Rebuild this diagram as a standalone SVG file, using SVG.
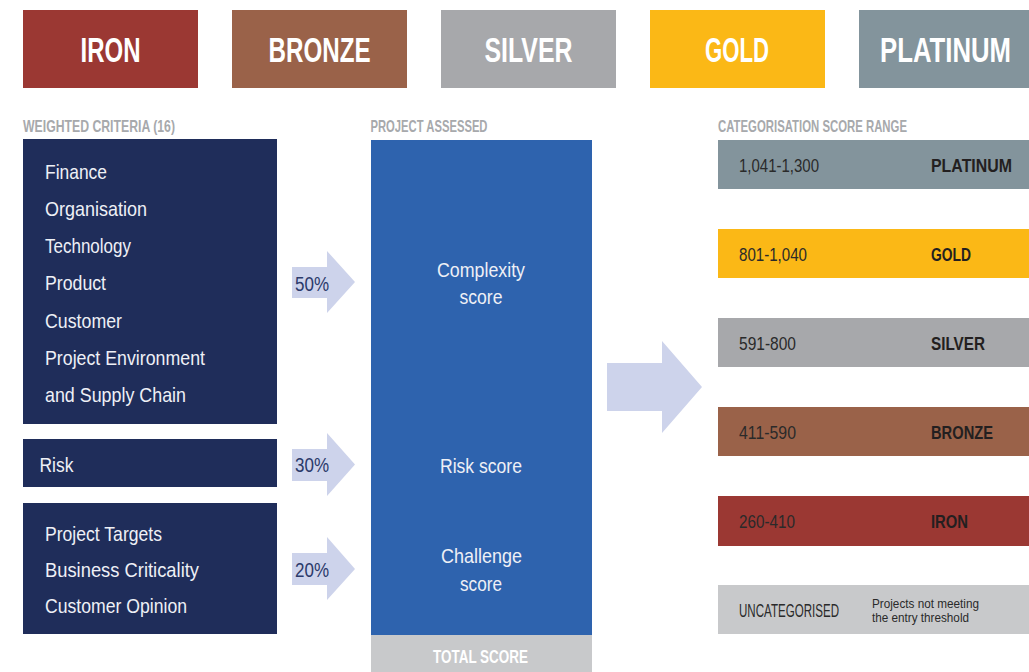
<svg xmlns="http://www.w3.org/2000/svg" width="1029" height="672" viewBox="0 0 1029 672">
  <style>
    text { font-family: "Liberation Sans Narrow", "Liberation Sans", Arial, sans-serif; }
    .tier { font-weight: bold; font-size: 35px; fill: #ffffff; text-anchor: middle; }
    .head { font-weight: bold; font-size: 16.5px; fill: #a7a9ac; }
    .crit { font-size: 21px; fill: #eef0f6; }
    .score { font-size: 21px; fill: #eef0f6; text-anchor: middle; }
    .pct { font-size: 20px; fill: #2b3a6a; }
    .range { font-size: 19px; fill: #2a2a2a; }
    .cat { font-size: 19px; font-weight: bold; fill: #231f20; }
    .note { font-size: 13.5px; fill: #2a2a2a; }
    .arrow { fill: #cdd3eb; }
  </style>

  <!-- tier banner along the top -->
  <g id="tier-iron">
    <rect x="23" y="10" width="175" height="78" fill="#9b3833"/>
    <text class="tier" x="110.5" y="61.5" textLength="60" lengthAdjust="spacingAndGlyphs">IRON</text>
  </g>
  <g id="tier-bronze">
    <rect x="232" y="10" width="175" height="78" fill="#9a6249"/>
    <text class="tier" x="319.5" y="61.5" textLength="102" lengthAdjust="spacingAndGlyphs">BRONZE</text>
  </g>
  <g id="tier-silver">
    <rect x="441" y="10" width="175" height="78" fill="#a7a8ab"/>
    <text class="tier" x="528.5" y="61.5" textLength="88" lengthAdjust="spacingAndGlyphs">SILVER</text>
  </g>
  <g id="tier-gold">
    <rect x="650" y="10" width="175" height="78" fill="#fbb816"/>
    <text class="tier" x="737" y="61.5" textLength="64" lengthAdjust="spacingAndGlyphs">GOLD</text>
  </g>
  <g id="tier-platinum">
    <rect x="859" y="10" width="170" height="78" fill="#83949c"/>
    <!-- condensed horizontally so the wide word fits the clipped box -->
    <text class="tier" transform="translate(945.5 61.5) scale(0.735 1)" x="0" y="0">PLATINUM</text>
  </g>

  <!-- column headings -->
  <g id="headings">
    <text class="head" x="23" y="131.5" textLength="152" lengthAdjust="spacingAndGlyphs">WEIGHTED CRITERIA (16)</text>
    <text class="head" x="370.5" y="131.5" textLength="117" lengthAdjust="spacingAndGlyphs">PROJECT ASSESSED</text>
    <text class="head" x="718" y="131.5" textLength="189" lengthAdjust="spacingAndGlyphs">CATEGORISATION SCORE RANGE</text>
  </g>

  <!-- weighted criteria -->
  <g id="criteria-complexity">
    <rect x="23" y="139" width="254" height="285" fill="#1f2d5a"/>
    <text class="crit" x="45" y="179" textLength="62" lengthAdjust="spacingAndGlyphs">Finance</text>
    <text class="crit" x="45" y="216" textLength="102" lengthAdjust="spacingAndGlyphs">Organisation</text>
    <text class="crit" x="45" y="253" textLength="86" lengthAdjust="spacingAndGlyphs">Technology</text>
    <text class="crit" x="45" y="290" textLength="61" lengthAdjust="spacingAndGlyphs">Product</text>
    <text class="crit" x="45" y="327.5" textLength="77" lengthAdjust="spacingAndGlyphs">Customer</text>
    <text class="crit" x="45" y="365" textLength="160" lengthAdjust="spacingAndGlyphs">Project Environment</text>
    <text class="crit" x="45" y="402" textLength="141" lengthAdjust="spacingAndGlyphs">and Supply Chain</text>
  </g>
  <g id="criteria-risk">
    <rect x="23" y="439" width="254" height="48" fill="#1f2d5a"/>
    <text class="crit" x="39.5" y="471.5" textLength="34" lengthAdjust="spacingAndGlyphs">Risk</text>
  </g>
  <g id="criteria-challenge">
    <rect x="23" y="503" width="254" height="131" fill="#1f2d5a"/>
    <text class="crit" x="45" y="540.5" textLength="117" lengthAdjust="spacingAndGlyphs">Project Targets</text>
    <text class="crit" x="45" y="577" textLength="154" lengthAdjust="spacingAndGlyphs">Business Criticality</text>
    <text class="crit" x="45" y="613" textLength="142" lengthAdjust="spacingAndGlyphs">Customer Opinion</text>
  </g>

  <!-- project assessed column -->
  <g id="project-assessed">
    <rect x="371" y="140" width="221" height="495" fill="#2e63ae"/>
    <text class="score" x="481" y="277" textLength="88" lengthAdjust="spacingAndGlyphs">Complexity</text>
    <text class="score" x="481" y="304" textLength="43" lengthAdjust="spacingAndGlyphs">score</text>
    <text class="score" x="481" y="472.5" textLength="82" lengthAdjust="spacingAndGlyphs">Risk score</text>
    <text class="score" x="481.5" y="562.5" textLength="81" lengthAdjust="spacingAndGlyphs">Challenge</text>
    <text class="score" x="481" y="590.5" textLength="42" lengthAdjust="spacingAndGlyphs">score</text>
  </g>
  <g id="total-score">
    <rect x="371" y="635" width="221" height="37" fill="#c8c9cb"/>
    <text x="480.5" y="663" text-anchor="middle" font-weight="bold" font-size="18" fill="#ffffff" textLength="95" lengthAdjust="spacingAndGlyphs">TOTAL SCORE</text>
  </g>

  <!-- weighting arrows -->
  <g id="connectors">
    <path class="arrow" d="M292 267 H327 V251 L355 282 L327 313 V298 H292 Z"/>
    <path class="arrow" d="M292 449 H327 V433 L355 464.5 L327 496 V481 H292 Z"/>
    <path class="arrow" d="M292 553 H327 V537 L355 569 L327 600 V585 H292 Z"/>
    <path class="arrow" d="M607 363 H662 V341 L702 387 L662 433 V411 H607 Z"/>
    <text class="pct" x="295" y="290.5" textLength="34" lengthAdjust="spacingAndGlyphs">50%</text>
    <text class="pct" x="295" y="472" textLength="34" lengthAdjust="spacingAndGlyphs">30%</text>
    <text class="pct" x="295" y="577" textLength="34" lengthAdjust="spacingAndGlyphs">20%</text>
  </g>

  <!-- categorisation score ranges -->
  <g id="range-platinum">
    <rect x="718" y="140" width="311" height="49" fill="#83949c"/>
    <text class="range" x="739" y="172" textLength="80" lengthAdjust="spacingAndGlyphs">1,041-1,300</text>
    <text class="cat" x="931" y="172" textLength="81" lengthAdjust="spacingAndGlyphs">PLATINUM</text>
  </g>
  <g id="range-gold">
    <rect x="718" y="229" width="311" height="49" fill="#fbb816"/>
    <text class="range" x="739" y="261" textLength="68" lengthAdjust="spacingAndGlyphs">801-1,040</text>
    <text class="cat" x="931" y="261" textLength="40" lengthAdjust="spacingAndGlyphs">GOLD</text>
  </g>
  <g id="range-silver">
    <rect x="718" y="318" width="311" height="49" fill="#a7a8ab"/>
    <text class="range" x="739" y="350" textLength="57" lengthAdjust="spacingAndGlyphs">591-800</text>
    <text class="cat" x="931" y="350" textLength="54" lengthAdjust="spacingAndGlyphs">SILVER</text>
  </g>
  <g id="range-bronze">
    <rect x="718" y="407" width="311" height="49" fill="#9a6249"/>
    <text class="range" x="739" y="439" textLength="57" lengthAdjust="spacingAndGlyphs">411-590</text>
    <text class="cat" x="931" y="439" textLength="62" lengthAdjust="spacingAndGlyphs">BRONZE</text>
  </g>
  <g id="range-iron">
    <rect x="718" y="496" width="311" height="50" fill="#9b3833"/>
    <text class="range" x="739" y="528" textLength="56" lengthAdjust="spacingAndGlyphs">260-410</text>
    <text class="cat" x="931" y="528" textLength="37" lengthAdjust="spacingAndGlyphs">IRON</text>
  </g>
  <g id="range-uncategorised">
    <rect x="718" y="585" width="311" height="49" fill="#c8c9cb"/>
    <text class="range" x="739" y="616.5" font-size="17" textLength="100" lengthAdjust="spacingAndGlyphs">UNCATEGORISED</text>
    <text class="note" x="872" y="607.5" textLength="107" lengthAdjust="spacingAndGlyphs">Projects not meeting</text>
    <text class="note" x="872" y="621.5" textLength="97" lengthAdjust="spacingAndGlyphs">the entry threshold</text>
  </g>
</svg>
